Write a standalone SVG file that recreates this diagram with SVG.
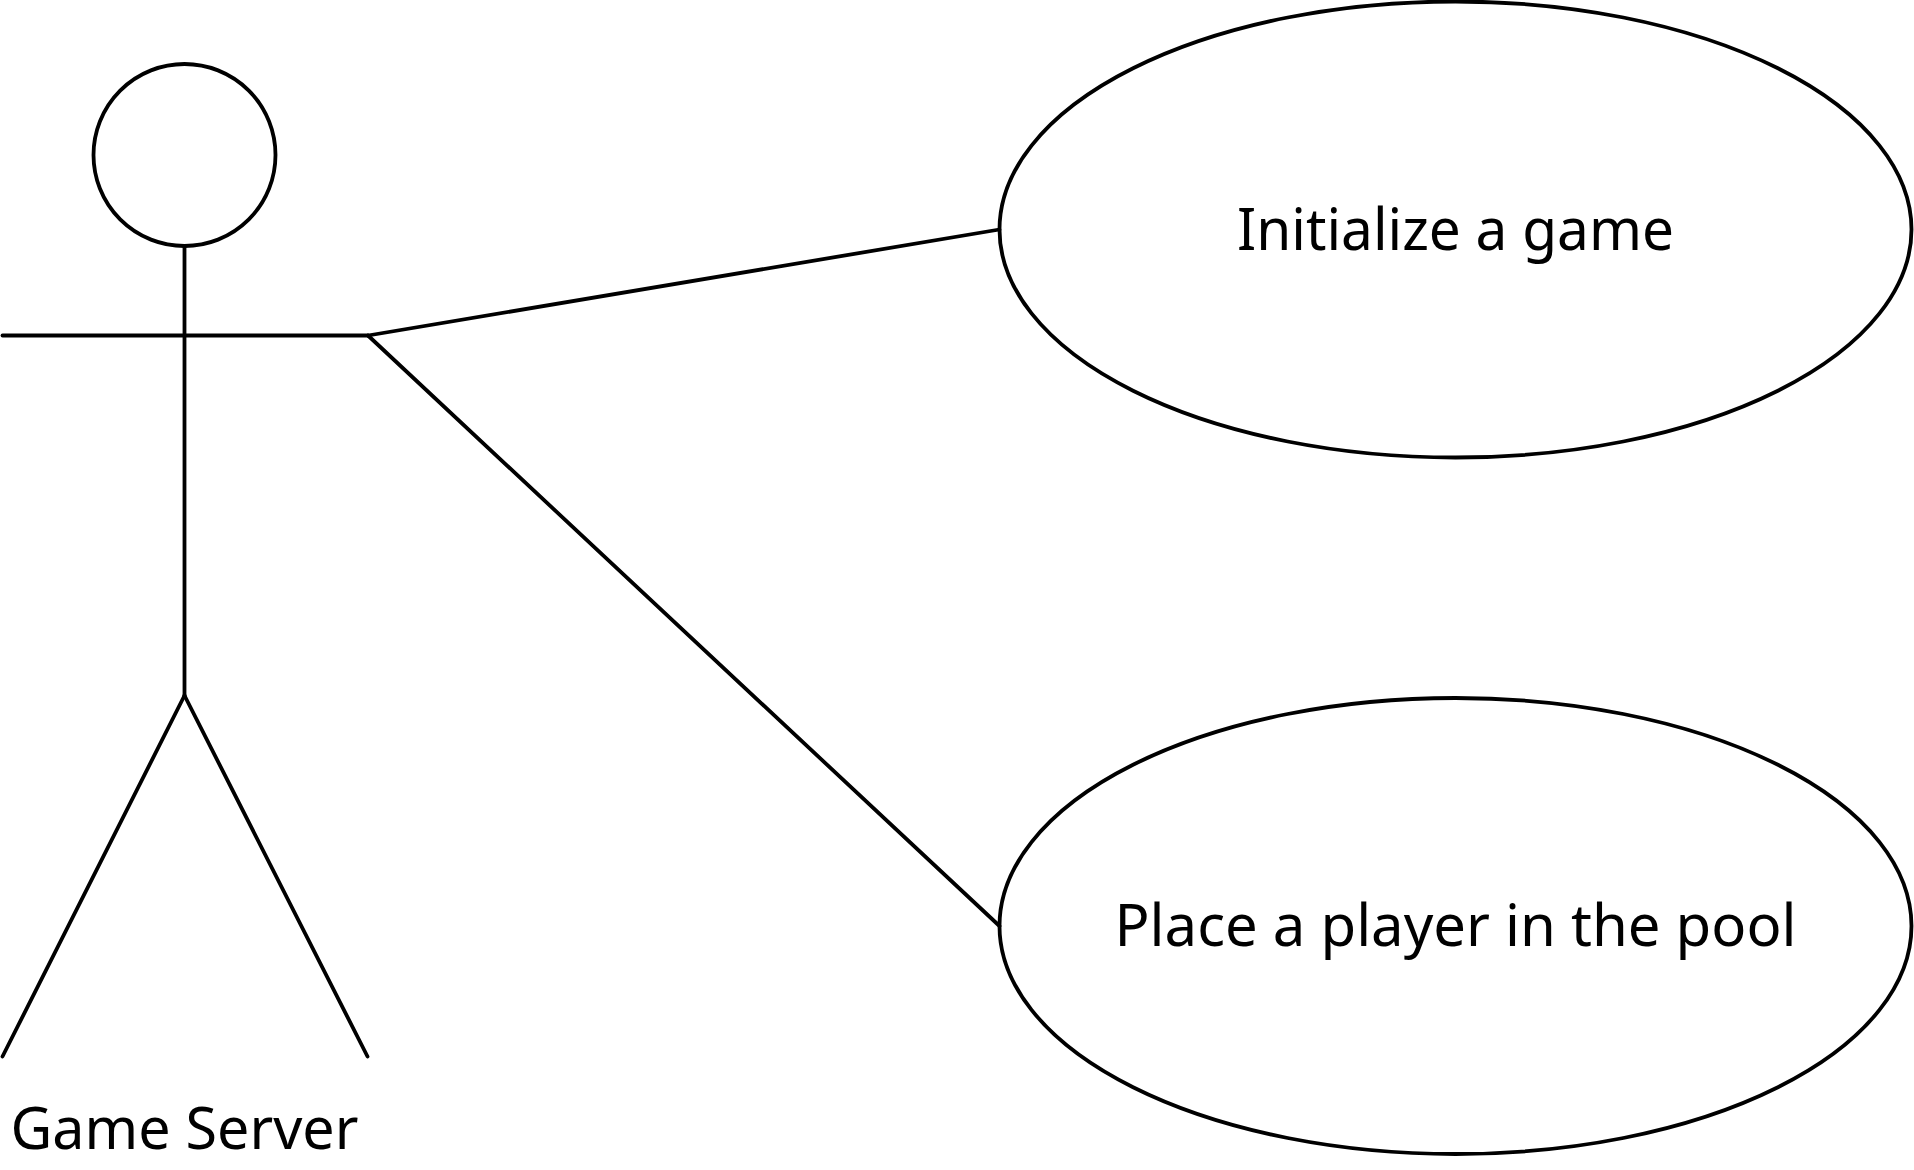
<svg xmlns="http://www.w3.org/2000/svg" width="1914" height="1170" viewBox="0 0 1914 1170">
<style>
.s{fill:none;stroke:#000;stroke-width:3.8;stroke-linecap:round}
.t{font-family:"Noto Sans","Open Sans",sans-serif;font-size:58px;fill:#000;text-anchor:middle}
</style>
<rect width="1914" height="1170" fill="#fff"/>
<g id="connectors">
<line class="s" x1="368" y1="335.500" x2="999.500" y2="229.500"/>
<line class="s" x1="368" y1="335.500" x2="999.500" y2="926"/>
</g>
<g id="actor">
<circle class="s" cx="184.500" cy="155" r="91"/>
<line class="s" x1="184.500" y1="246" x2="184.500" y2="695.500"/>
<line class="s" x1="2.500" y1="335.500" x2="368" y2="335.500"/>
<line class="s" x1="184.500" y1="695.500" x2="2.500" y2="1056.500"/>
<line class="s" x1="184.500" y1="695.500" x2="367.500" y2="1056.500"/>
<text class="t" x="184.500" y="1149" textLength="348" lengthAdjust="spacingAndGlyphs">Game Server</text>
</g>
<g id="usecase1">
<ellipse class="s" cx="1455.500" cy="229.500" rx="456" ry="228"/>
<text class="t" x="1455.500" y="249.500" textLength="437" lengthAdjust="spacingAndGlyphs">Initialize a game</text>
</g>
<g id="usecase2">
<ellipse class="s" cx="1455.500" cy="926" rx="456" ry="228"/>
<text class="t" x="1455.500" y="945.500" textLength="682" lengthAdjust="spacingAndGlyphs">Place a player in the pool</text>
</g>
</svg>
